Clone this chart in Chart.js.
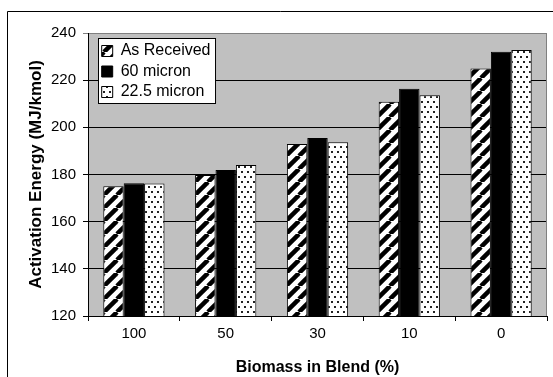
<!DOCTYPE html>
<html>
<head>
<meta charset="utf-8">
<script src="https://cdn.jsdelivr.net/npm/chart.js@4/dist/chart.umd.min.js"></script>
<style>
  html, body { margin: 0; padding: 0; background: #fff; }
  #wrap { position: relative; width: 553px; height: 377px; overflow: hidden; }
  canvas { display: block; }
</style>
</head>
<body>
<div id="wrap"><canvas id="c" width="553" height="377"></canvas></div>
<script>
// ---- data ----
const categories = ['100', '50', '30', '10', '0'];
const seriesNames = ['As Received', '60 micron', '22.5 micron'];
const asReceived = [175.0, 179.8, 192.9, 210.9, 225.0];
const micron60 = [176.3, 181.9, 195.5, 216.4, 232.0];
const micron22 = [176.2, 184.0, 193.7, 213.6, 232.8];
const yMin = 120, yMax = 240, yStep = 20;

// ---- fill patterns ----
function stripePattern() {
  const T = 13;
  const c = document.createElement('canvas');
  c.width = T; c.height = T;
  const g = c.getContext('2d');
  g.fillStyle = '#fff'; g.fillRect(0, 0, T, T);
  g.strokeStyle = '#000'; g.lineWidth = 4.5;
  for (const o of [-T, 0, T]) {
    g.beginPath(); g.moveTo(o, T); g.lineTo(o + T, 0); g.stroke();
  }
  return document.createElement('canvas').getContext('2d').createPattern(c, 'repeat');
}
function dotPattern() {
  const W = 6, H = 10;
  const c = document.createElement('canvas');
  c.width = W; c.height = H;
  const g = c.getContext('2d');
  g.fillStyle = '#fff'; g.fillRect(0, 0, W, H);
  g.fillStyle = '#222';
  g.fillRect(1, 1, 2, 2);
  g.fillRect(4, 6, 2, 2);
  return document.createElement('canvas').getContext('2d').createPattern(c, 'repeat');
}

const FONT = "'Liberation Sans', Arial, sans-serif";
Chart.defaults.font.family = FONT;
Chart.defaults.color = '#000';

const frame = {
  id: 'frame',
  beforeDraw(chart) {
    const {ctx, chartArea: a} = chart;
    ctx.save();
    ctx.fillStyle = '#c0c0c0';
    ctx.fillRect(a.left, a.top, a.right - a.left, a.bottom - a.top);
    ctx.strokeStyle = '#000';
    ctx.lineWidth = 1;
    ctx.beginPath();
    ctx.moveTo(7.5, 400); ctx.lineTo(7.5, 11.5); ctx.lineTo(600, 11.5);
    ctx.stroke();
    ctx.restore();
  },
  afterLayout(chart) {
    const l = chart.legend;
    if (l) { l.left = 97.2; l.top = 38.5; }
  },
  afterDatasetsDraw(chart) {
    const {ctx, chartArea: a} = chart;
    ctx.save();
    ctx.strokeStyle = '#808080';
    ctx.lineWidth = 1;
    ctx.beginPath();
    ctx.moveTo(Math.round(a.right) - 0.5, a.top);
    ctx.lineTo(Math.round(a.right) - 0.5, a.bottom);
    ctx.stroke();
    // legend box
    const l = chart.legend;
    const lo = chart.options.plugins.legend.labels;
    ctx.font = '16px ' + FONT;
    let maxW = 0;
    for (const n of seriesNames) maxW = Math.max(maxW, ctx.measureText(n).width);
    const x0 = 98.5, y0 = 38.5;
    const w = lo.padding + lo.boxWidth + 8 + maxW + 5 - (x0 - l.left);
    const h = 65;
    ctx.fillStyle = '#fff';
    ctx.fillRect(x0, y0, w, h);
    ctx.strokeStyle = '#000';
    ctx.strokeRect(x0, y0, w, h);
    ctx.restore();
    l.draw();
  }
};

new Chart(document.getElementById('c'), {
  type: 'bar',
  data: {
    labels: categories,
    datasets: [
      { label: seriesNames[0], data: asReceived, backgroundColor: stripePattern(), borderColor: '#000', borderWidth: 1 },
      { label: seriesNames[1], data: micron60, backgroundColor: '#000', borderColor: '#000', borderWidth: 1 },
      { label: seriesNames[2], data: micron22, backgroundColor: dotPattern(), borderColor: '#000', borderWidth: 1 }
    ]
  },
  options: {
    responsive: false,
    animation: false,
    devicePixelRatio: 1,
    layout: { padding: { top: 33, right: 6, left: 0, bottom: 0 } },
    datasets: { bar: { categoryPercentage: 0.667, barPercentage: 1.0 } },
    plugins: {
      legend: {
        position: 'chartArea',
        align: 'start',
        labels: {
          boxWidth: 11, boxHeight: 11, padding: 4.5,
          color: '#000',
          font: { size: 16, family: FONT }
        }
      },
      tooltip: { enabled: false }
    },
    scales: {
      x: {
        grid: { drawOnChartArea: false, drawTicks: true, tickLength: 5, color: '#000', offset: true },
        border: { display: true, color: '#000', width: 1 },
        ticks: { font: { size: 15, family: FONT }, color: '#000', padding: 4, maxRotation: 0 },
        title: { display: true, text: 'Biomass in Blend (%)', font: { size: 16, weight: 'bold', family: FONT }, color: '#000', padding: { top: 0, bottom: 0 } },
        afterFit(s) { s.height = 61; }
      },
      y: {
        min: yMin, max: yMax,
        ticks: { stepSize: yStep, font: { size: 15, family: FONT }, color: '#000', padding: 7 },
        grid: {
          color: (c) => (c.tick && c.tick.value === yMax) ? '#808080' : '#000',
          drawTicks: true, tickLength: 5, lineWidth: 1
        },
        border: { display: true, color: '#000', width: 1 },
        title: { display: true, text: 'Activation Energy (MJ/kmol)', font: { size: 17, weight: 'bold', family: FONT }, color: '#000', padding: { top: 26, bottom: 0 } },
        afterFit(s) { s.width = 88; }
      }
    }
  },
  plugins: [frame]
});
</script>
</body>
</html>
